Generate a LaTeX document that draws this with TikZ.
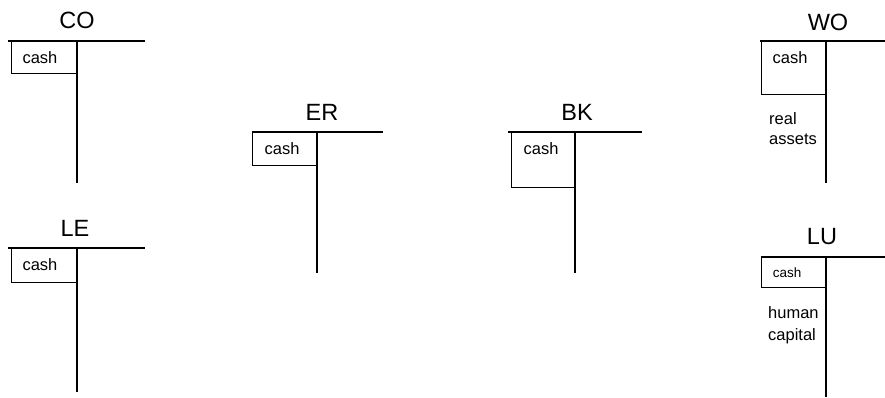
\documentclass[tikz,border=0pt]{standalone}
\usepackage{fontspec}
\setmainfont{Liberation Sans}
\begin{document}
\begin{tikzpicture}[x=1pt,y=-1pt,
  acc/.style={line width=1.2pt,black},
  box/.style={draw,line width=1.2pt,anchor=north west,inner sep=0pt},
  ttl/.style={font=\fontsize{23.5}{26}\selectfont,inner sep=0pt},
  lbl/.style={font=\fontsize{16.5}{18}\selectfont,inner sep=0pt},
  small/.style={font=\fontsize{13.5}{15}\selectfont,inner sep=0pt},
  multi/.style={font=\fontsize{16.5}{20}\selectfont,inner sep=0pt,align=left,anchor=north west}]
\useasboundingbox (0,0) rectangle (885,397);
% CO
\node[ttl] (coT) at (77,20) {CO};
\coordinate (coL) at (8,41); \coordinate (coR) at (145,41);
\coordinate (coV) at (77,41); \coordinate (coB) at (77,183);
\node[box,minimum width=66pt,minimum height=32pt] (coBox) at (11,41) {};
\node[lbl] (coC) at (40,58) {cash};
\draw[acc] (coL) -- (coR) (coV) -- (coB);
% LE
\node[ttl] (leT) at (75,228) {LE};
\coordinate (leL) at (8,248); \coordinate (leR) at (145,248);
\coordinate (leV) at (77,248); \coordinate (leB) at (77,392);
\node[box,minimum width=66pt,minimum height=34pt] (leBox) at (11,248) {};
\node[lbl] (leC) at (40,265) {cash};
\draw[acc] (leL) -- (leR) (leV) -- (leB);
% ER
\node[ttl] (erT) at (322,112) {ER};
\coordinate (erL) at (252,132); \coordinate (erR) at (383,132);
\coordinate (erV) at (317,132); \coordinate (erB) at (317,273);
\node[box,minimum width=65pt,minimum height=33pt] (erBox) at (252,132) {};
\node[lbl] (erC) at (282,149) {cash};
\draw[acc] (erL) -- (erR) (erV) -- (erB);
% BK
\node[ttl] (bkT) at (577,112) {BK};
\coordinate (bkL) at (508,132); \coordinate (bkR) at (642,132);
\coordinate (bkV) at (575,132); \coordinate (bkB) at (575,273);
\node[box,minimum width=64pt,minimum height=55pt] (bkBox) at (511,132) {};
\node[lbl] (bkC) at (541,149) {cash};
\draw[acc] (bkL) -- (bkR) (bkV) -- (bkB);
% WO
\node[ttl] (woT) at (828,22) {WO};
\coordinate (woL) at (760,41); \coordinate (woR) at (885,41);
\coordinate (woV) at (826,41); \coordinate (woB) at (826,183);
\node[box,minimum width=65pt,minimum height=53pt] (woBox) at (761,41) {};
\node[lbl] (woC) at (790,58) {cash};
\node[multi] (woRA) at (769,112) {real\\assets};
\draw[acc] (woL) -- (woR) (woV) -- (woB);
% LU
\node[ttl] (luT) at (822,237) {LU};
\coordinate (luL) at (761,257); \coordinate (luR) at (885,257);
\coordinate (luV) at (826,257); \coordinate (luB) at (826,397);
\node[box,minimum width=65pt,minimum height=30pt] (luBox) at (761,257) {};
\node[small] (luC) at (787,273) {cash};
\node[multi,font=\fontsize{16.5}{22}\selectfont] (luHC) at (768,306) {human\\capital};
\draw[acc] (luL) -- (luR) (luV) -- (luB);
\end{tikzpicture}
\end{document}
